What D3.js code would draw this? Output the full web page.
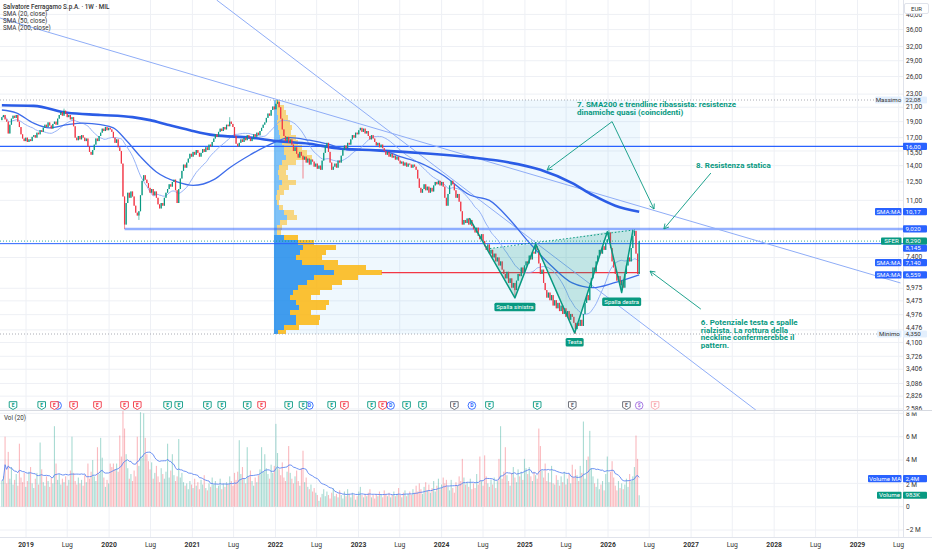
<!DOCTYPE html>
<html>
<head>
<meta charset="utf-8">
<script src="https://cdn.jsdelivr.net/npm/d3@7"></script>
<style>
  html, body { margin: 0; padding: 0; background: #fff; }
  svg { display: block; font-family: Roboto, "Liberation Sans", sans-serif; }
</style>
</head>
<body>
<div id="chart"></div>
<script>
'use strict';

// weekly closes (EUR), first week = 17 Sep 2018
var closes = [
  19.6, 19.9, 19.3, 19.0, 17.5, 18.6, 19.4, 19.8, 19.5, 19.9,
  19.0, 18.3, 17.4, 16.9, 16.6, 17.0, 16.5, 16.8, 16.6, 17.1,
  17.3, 17.0, 17.6, 17.4, 17.9, 17.7, 18.2, 18.6, 18.3, 18.9,
  18.5, 18.1, 18.7, 19.0, 18.6, 19.4, 19.9, 20.3, 19.8, 20.5,
  20.1, 19.6, 19.9, 19.3, 19.6, 18.4, 17.0, 16.7, 17.2, 16.8,
  17.3, 17.0, 16.6, 16.9, 16.0, 15.4, 15.1, 15.6, 16.2, 16.9,
  16.6, 17.2, 17.6, 18.1, 17.8, 18.3, 17.9, 18.2, 18.0, 17.7,
  17.0, 16.4, 16.8, 15.9, 15.5, 14.2, 11.3, 9.3, 10.8, 11.6,
  11.2, 11.7, 11.3, 10.6, 10.1, 9.9, 10.2, 11.4, 12.6, 13.1,
  12.7, 12.4, 12.0, 11.6, 11.9, 11.4, 11.7, 11.2, 10.7, 10.4,
  10.8, 10.6, 11.2, 11.6, 11.9, 12.3, 12.1, 12.5, 12.7, 11.8,
  10.8, 11.9, 12.8, 13.5, 14.1, 13.8, 14.3, 14.7, 15.2, 14.9,
  15.4, 15.1, 15.6, 15.3, 14.9, 15.3, 15.7, 15.4, 15.9, 15.6,
  16.2, 16.0, 16.5, 16.9, 17.4, 17.1, 17.7, 18.1, 17.8, 18.3,
  18.0, 18.6, 18.4, 19.0, 18.7, 18.3, 17.2, 16.3, 16.0, 16.4,
  16.8, 16.5, 17.0, 16.7, 17.3, 17.0, 16.6, 16.9, 17.4, 17.1,
  17.6, 17.3, 17.8, 18.2, 18.6, 18.9, 19.5, 20.1, 19.8, 20.6,
  21.1, 20.7, 21.5, 21.8, 21.0, 19.4, 18.0, 17.2, 16.6, 17.1,
  16.4, 16.8, 16.2, 15.5, 15.9, 15.2, 14.8, 15.4, 15.0, 14.6,
  14.9, 14.3, 14.7, 14.1, 14.6, 14.4, 13.9, 14.2, 13.7, 14.0,
  13.6, 14.5, 15.3, 16.0, 16.4, 15.4, 14.3, 13.6, 13.9, 14.2,
  13.8, 14.5, 14.3, 15.0, 15.6, 16.1, 15.8, 16.4, 16.2, 16.8,
  17.3, 17.0, 17.6, 17.4, 17.9, 18.2, 17.7, 18.1, 17.5, 17.8,
  17.2, 16.8, 17.3, 16.9, 16.5, 16.1, 16.4, 15.9, 16.2, 15.8,
  15.5, 15.1, 15.4, 14.9, 15.2, 14.8, 15.0, 14.6, 14.9, 14.5,
  14.2, 14.4, 14.0, 14.3, 13.9, 14.2, 14.1, 13.8, 14.1, 13.9,
  13.6, 12.8, 12.0, 11.6, 11.9, 12.3, 11.8, 12.1, 11.6, 12.0,
  11.7, 12.2, 12.5, 12.3, 12.6, 12.2, 12.5, 12.1, 11.2, 10.6,
  11.5, 12.2, 12.6, 12.3, 11.8, 11.2, 11.5, 10.9, 10.2, 9.3,
  9.6, 9.4, 9.7, 9.3, 9.6, 9.2, 9.0, 8.8, 9.1, 8.6,
  8.4, 8.7, 8.3, 8.0, 7.8, 8.1, 7.6, 7.8, 7.4, 7.6,
  7.2, 7.4, 7.0, 7.2, 6.8, 6.6, 6.4, 6.7, 6.2, 6.4,
  6.0, 6.2, 5.9, 6.3, 6.6, 6.5, 6.9, 6.7, 7.0, 7.2,
  7.1, 7.5, 7.3, 7.7, 7.6, 8.0, 7.8, 7.1, 6.6, 6.8,
  6.2, 5.9, 5.6, 5.8, 5.5, 5.7, 5.3, 5.5, 5.2, 5.4,
  5.1, 5.3, 5.0, 5.2, 4.9, 5.1, 4.8, 5.0, 4.9, 4.7,
  4.5, 4.7, 4.6, 4.8, 4.6, 5.0, 5.4, 5.7, 5.5, 6.0,
  6.4, 6.9, 6.7, 7.2, 7.5, 7.8, 7.6, 8.0, 7.8, 8.2,
  8.4, 8.8, 7.9, 7.2, 6.9, 6.6, 6.3, 6.5, 6.1, 6.3,
  6.0, 6.6, 7.0, 7.4, 7.2, 7.9, 8.6, 8.9, 7.6, 6.6,
  8.29
];
var firstOpen = 19.2;

// notable wicks (week index, high / low)
var wickWeeks = [39, 77, 86, 143, 173, 189, 322, 335, 360, 381, 389, 397];
var wickHigh  = [20.8, null, null, 19.6, 22.08, null, null, 8.15, null, 8.95, null, 9.0];
var wickLow   = [null, 9.02, 9.6, null, null, 12.8, 5.6, null, 4.35, null, 5.85, null];

// weekly volume, millions of shares
var volumes = [
  2.2, 2.6, 6.0, 2.0, 4.7, 2.4, 3.4, 1.9, 2.3, 2.8,
  1.8, 5.4, 2.5, 2.1, 2.9, 1.7, 2.2, 3.0, 3.4, 2.0,
  1.6, 2.4, 2.9, 1.9, 5.5, 3.2, 2.1, 1.8, 2.6, 2.2,
  1.7, 2.5, 2.0, 6.9, 3.7, 2.3, 2.8, 1.9, 2.4, 2.1,
  2.6, 1.8, 2.3, 3.1, 6.0, 2.9, 2.2, 1.9, 2.5, 2.0,
  2.3, 1.8, 2.7, 2.1, 3.7, 2.4, 3.0, 4.0, 2.6, 2.2,
  5.1, 2.8, 5.9, 4.2, 2.5, 1.7, 2.3, 2.0, 3.7, 3.4,
  3.7, 3.2, 3.7, 3.0, 6.1, 4.3, 8.3, 6.7, 4.5, 3.3,
  2.4, 2.8, 2.2, 3.1, 2.6, 6.0, 3.5, 8.1, 4.2, 8.0,
  5.9, 4.5, 3.9, 3.2, 3.8, 2.4, 2.9, 3.5, 2.6, 2.1,
  3.3, 2.8, 2.4, 3.0, 5.4, 2.5, 3.1, 4.5, 2.7, 2.2,
  2.6, 5.8, 2.5, 2.9, 2.1, 1.8, 2.0, 1.5, 2.2, 1.9,
  1.6, 2.4, 1.8, 2.1, 1.5, 2.3, 1.9, 2.7, 1.6, 1.4,
  2.0, 1.7, 2.5, 1.9, 2.2, 1.6, 1.8, 2.4, 1.5, 2.0,
  1.7, 2.1, 1.9, 2.6, 2.2, 1.8, 2.9, 2.3, 3.0, 5.7,
  2.8, 3.4, 2.4, 2.0, 5.1, 2.6, 3.1, 2.2, 1.8, 2.5,
  2.1, 2.7, 3.2, 5.1, 3.0, 4.5, 3.3, 2.8, 2.4, 3.6,
  2.9, 3.5, 7.1, 4.6, 3.2, 2.7, 3.8, 2.5, 2.2, 3.0,
  5.2, 2.9, 2.4, 2.0, 2.6, 3.1, 2.2, 1.8, 3.3, 4.8,
  2.1, 2.5, 1.7, 1.5, 1.9, 1.3, 1.6, 1.2, 1.0, 0.5,
  0.8, 1.1, 1.5, 0.9, 1.3, 1.0, 0.7, 1.2, 1.6, 0.9,
  1.1, 0.8, 1.4, 1.0, 0.7, 1.3, 0.9, 1.5, 1.1, 0.8,
  1.2, 1.0, 0.6, 0.9, 1.3, 1.7, 1.0, 0.8, 1.1, 0.9,
  1.2, 1.5, 0.8, 1.0, 0.7, 1.1, 0.9, 1.3, 1.0, 0.8,
  1.4, 1.1, 0.9, 1.2, 0.8, 1.0, 1.3, 0.9, 1.1, 1.6,
  1.0, 0.8, 1.2, 1.4, 0.9, 1.1, 1.3, 1.0, 1.5, 1.2,
  1.8, 1.3, 2.0, 1.5, 1.1, 1.7, 2.1, 1.4, 1.9, 1.2,
  1.6, 2.2, 1.3, 1.8, 2.4, 1.5, 1.9, 2.5, 2.0, 2.3,
  1.7, 1.4, 2.3, 1.6, 1.2, 2.1, 1.8, 2.6, 2.2, 4.1,
  2.5, 1.9, 2.1, 1.7, 2.4, 1.5, 2.0, 1.6, 2.8, 1.9,
  4.3, 2.2, 1.8, 4.4, 2.6, 2.0, 1.7, 2.3, 1.9, 2.5,
  1.6, 2.2, 4.1, 6.9, 2.4, 3.0, 5.1, 2.7, 2.2, 1.8,
  2.9, 3.4, 2.5, 2.1, 3.2, 2.6, 3.0, 2.3, 4.1, 3.3,
  2.8, 3.4, 2.6, 2.2, 3.0, 2.7, 2.4, 6.7, 5.2, 3.1,
  2.5, 3.7, 2.2, 2.9, 2.1, 3.5, 2.0, 1.9, 2.7, 2.3,
  1.8, 2.6, 2.1, 3.0, 1.9, 2.4, 2.8, 2.0, 3.6, 2.5,
  3.2, 2.7, 2.2, 3.5, 2.9, 7.3, 2.4, 4.0, 4.3, 6.5,
  3.3, 2.6, 2.0, 1.7, 2.4, 1.5, 1.9, 2.2, 1.4, 2.8,
  4.3, 2.1, 3.0, 3.9, 2.5, 1.8, 1.4, 2.2, 1.6, 2.0,
  1.5, 1.9, 2.4, 1.7, 2.8, 2.2, 2.6, 3.4, 6.1, 4.1,
  0.98
];

// moving averages (week index -> value)
var sma50Weeks = [0, 9, 20, 30, 41, 51, 62, 70, 78, 87, 97, 110, 120, 133, 143, 156, 168, 181, 193, 206, 218, 237, 250, 262, 277, 294, 306, 319, 331, 346, 358, 371, 384, 400];
var sma50Vals  = [20.6, 20.2, 18.8, 18.2, 18.6, 18.8, 18.6, 18.2, 16.7, 14.9, 13.4, 12.5, 12.2, 12.7, 13.8, 15.1, 16.2, 17.0, 16.7, 16.2, 15.6, 15.6, 14.9, 14.3, 13.1, 11.4, 11.0, 9.6, 8.2, 6.9, 6.2, 6.0, 6.2, 6.56];
var sma200Weeks = [0, 20, 41, 62, 82, 93, 104, 118, 133, 156, 173, 193, 210, 231, 252, 269, 296, 311, 338, 358, 371, 385, 400];
var sma200Vals  = [21.3, 21.2, 20.2, 19.9, 19.6, 19.2, 18.6, 17.9, 17.3, 17.0, 16.6, 16.3, 15.8, 15.6, 15.4, 15.2, 14.8, 14.5, 13.6, 12.4, 11.4, 10.6, 10.17];

// fixed range volume profile: row edges (EUR), up / down volume per row
var profileEdges = [22.08, 21.33, 20.60, 19.89, 19.22, 18.56, 17.93, 17.32, 16.73, 16.16, 15.61, 15.07, 14.56, 14.06, 13.58, 13.12, 12.67, 12.24, 11.82, 11.42, 11.03, 10.65, 10.29, 9.94, 9.60, 9.27, 8.95, 8.65, 8.35, 8.07, 7.79, 7.53, 7.27, 7.02, 6.78, 6.55, 6.33, 6.11, 5.90, 5.70, 5.51, 5.32, 5.14, 4.96, 4.79, 4.63, 4.47, 4.35];
var profileUp   = [2, 3, 3, 4, 3, 4, 5, 6, 8, 10, 10, 12, 8, 5, 4, 5, 8, 5, 3, 2, 3, 5, 10, 13, 6, 3, 3, 10, 24, 29, 26, 22, 28, 50, 60, 40, 33, 24, 19, 16, 22, 25, 16, 22, 22, 10, 4];
var profileDown = [4, 7, 9, 10, 13, 14, 12, 16, 16, 18, 23, 26, 14, 9, 8, 9, 14, 10, 7, 4, 2, 4, 10, 10, 7, 5, 4, 14, 16, 33, 26, 26, 36, 42, 48, 44, 35, 34, 27, 21, 33, 27, 21, 24, 23, 15, 8];
var pocPrice = 6.66;
var valueAreaTop = 8.65;
var rangeHigh = 22.08, rangeLow = 4.35;

// levels
var levels = [16.0, 9.02, 8.145];
var lastPrice = 8.29;

// axis ticks
var priceTicks = [40, 36, 32, 29, 26, 23, 21, 19, 17, 15.5, 14, 12.5, 11, 7.4, 5.975, 5.475, 4.976, 4.476, 4.1, 3.726, 3.406, 3.086, 2.826, 2.586];
var priceTickLabels = ['40,00', '36,00', '32,00', '29,00', '26,00', '23,00', '21,00', '19,00', '17,00', '15,50', '14,00', '12,50', '11,00', '7,400', '5,975', '5,475', '4,976', '4,476', '4,100', '3,726', '3,406', '3,086', '2,826', '2,586'];
var volTicks = [8, 6, 4, 2, 0, -2];
var volTickLabels = ['8 M', '6 M', '4 M', '2 M', '0', '\u22122 M'];
var years = [2019, 2020, 2021, 2022, 2023, 2024, 2025, 2026, 2027, 2028, 2029];
var midLabel = 'Lug';

// events (week index, kind)
var eventWeeks = [35, 193, 244, 295, 7, 25, 33, 45, 60, 77, 85, 104, 111, 129, 138, 154, 163, 180, 189, 207, 215, 232, 239, 254, 264, 284, 306, 336, 358, 392, 400, 410];
var eventKinds = ['D', 'D', 'D', 'D', 'Eg', 'Eg', 'Er', 'Er', 'Er', 'Er', 'Er', 'Eg', 'Eg', 'Eg', 'Eg', 'Eg', 'Er', 'Eg', 'Eg', 'Eg', 'Er', 'Eg', 'Er', 'Eg', 'Eg', 'Ex', 'Eg', 'Eg', 'Ex', 'Ex', 'S', 'Ef'];

// --- layout --------------------------------------------------------------
var width = 932, height = 550;
var paneRight = 903;
var priceBottom = 410, volTop = 411, volBottom = 537;
var green = '#089981', red = '#f23645', blue = '#2962ff';
var t0 = new Date(2018, 8, 17).getTime();
var WEEK = 7 * 864e5;

var x = d3.scaleTime().domain([new Date(2019, 0, 1), new Date(2026, 0, 1)]).range([26, 608]);
var y = d3.scaleLog().domain([22.08, 4.35]).range([100, 334]);
var yv = d3.scaleLinear().domain([0, 6]).range([506.7, 436.7]);
function xw(i) { return x(new Date(t0 + i * WEEK)); }

var svg = d3.select('#chart').append('svg').attr('width', width).attr('height', height);
svg.append('rect').attr('width', width).attr('height', height).attr('fill', '#fff');

var defs = svg.append('defs');
defs.append('clipPath').attr('id', 'clipPrice').append('rect').attr('x', 0).attr('y', 0).attr('width', paneRight).attr('height', priceBottom);
defs.append('clipPath').attr('id', 'clipVol').append('rect').attr('x', 0).attr('y', volTop).attr('width', paneRight).attr('height', volBottom - volTop);
defs.append('clipPath').attr('id', 'clipPriceAxis').append('rect').attr('x', paneRight).attr('y', 0).attr('width', 30).attr('height', priceBottom);
defs.append('clipPath').attr('id', 'clipVolAxis').append('rect').attr('x', paneRight).attr('y', 412.5).attr('width', 30).attr('height', volBottom - 412.5);

// grid
var grid = svg.append('g').attr('stroke', '#eef0f5').attr('stroke-width', 1);
years.forEach(function (yr) {
  [new Date(yr, 0, 1), new Date(yr, 6, 1)].forEach(function (d) {
    grid.append('line').attr('x1', x(d)).attr('x2', x(d)).attr('y1', 0).attr('y2', volBottom);
  });
});
priceTicks.forEach(function (v) {
  grid.append('line').attr('x1', 0).attr('x2', paneRight).attr('y1', y(v)).attr('y2', y(v));
});
volTicks.forEach(function (v) {
  grid.append('line').attr('x1', 0).attr('x2', paneRight).attr('y1', yv(v)).attr('y2', yv(v));
});

var pp = svg.append('g').attr('clip-path', 'url(#clipPrice)');

// volume profile range box
var profStart = 170.5, profEnd = 400.5;
pp.append('rect')
  .attr('x', xw(profStart)).attr('width', xw(profEnd) - xw(profStart))
  .attr('y', y(rangeHigh)).attr('height', y(rangeLow) - y(rangeHigh))
  .attr('fill', 'rgba(33,150,243,0.07)');

var px = d3.scaleLinear().domain([0, 110]).range([xw(profStart), xw(profStart) + 110]);
var rows = profileUp.map(function (u, k) {
  return { top: profileEdges[k], bot: profileEdges[k + 1], up: u, down: profileDown[k] };
});
var prof = pp.append('g').attr('shape-rendering', 'crispEdges');
prof.selectAll('rect.up').data(rows).enter().append('rect')
  .attr('x', px(0)).attr('width', function (d) { return px(d.up) - px(0); })
  .attr('y', function (d) { return y(d.top); })
  .attr('height', function (d) { return y(d.bot) - y(d.top); })
  .attr('fill', function (d) { return d.top <= valueAreaTop ? 'rgba(33,140,235,0.85)' : 'rgba(33,150,243,0.55)'; });
prof.selectAll('rect.down').data(rows).enter().append('rect')
  .attr('x', function (d) { return px(d.up); })
  .attr('width', function (d) { return px(d.up + d.down) - px(d.up); })
  .attr('y', function (d) { return y(d.top); })
  .attr('height', function (d) { return y(d.bot) - y(d.top); })
  .attr('fill', function (d) { return d.top <= valueAreaTop ? 'rgba(251,186,30,0.9)' : 'rgba(251,192,45,0.6)'; });

var pocRow = rows.filter(function (d) { return d.top >= pocPrice && d.bot < pocPrice; })[0];
pp.append('line')
  .attr('x1', px(pocRow.up + pocRow.down)).attr('x2', xw(profEnd))
  .attr('y1', y(pocPrice)).attr('y2', y(pocPrice))
  .attr('stroke', red).attr('stroke-width', 1.2);

// dotted range lines and last price line
[rangeHigh, rangeLow].forEach(function (v) {
  pp.append('line').attr('x1', 0).attr('x2', paneRight).attr('y1', y(v)).attr('y2', y(v))
    .attr('stroke', '#9598a1').attr('stroke-width', 0.8).attr('stroke-dasharray', '1,2');
});
pp.append('line').attr('x1', 0).attr('x2', paneRight).attr('y1', y(lastPrice)).attr('y2', y(lastPrice))
  .attr('stroke', green).attr('stroke-width', 0.8).attr('stroke-dasharray', '1,2');

// horizontal levels
pp.append('line').attr('x1', 0).attr('x2', paneRight).attr('y1', y(levels[0])).attr('y2', y(levels[0]))
  .attr('stroke', blue).attr('stroke-width', 1.3);
pp.append('line').attr('x1', xw(77)).attr('x2', paneRight).attr('y1', y(levels[1])).attr('y2', y(levels[1]))
  .attr('stroke', 'rgba(41,98,255,0.5)').attr('stroke-width', 2.6);
pp.append('line').attr('x1', 0).attr('x2', paneRight).attr('y1', y(levels[2])).attr('y2', y(levels[2]))
  .attr('stroke', blue).attr('stroke-width', 1);

// trendlines (two anchors each, drawn across the pane)
var trendA = [[134.8, 44.2], [473.2, 2.566]];
var trendB = [[-1.1, 39.0], [564.0, 6.2]];
[trendA, trendB].forEach(function (t) {
  pp.append('line')
    .attr('x1', xw(t[0][0])).attr('y1', y(t[0][1]))
    .attr('x2', xw(t[1][0])).attr('y2', y(t[1][1]))
    .attr('stroke', '#8fadf7').attr('stroke-width', 1);
});

// SMA 20 from closes
var sma20 = closes.map(function (c, i) {
  var s = closes.slice(Math.max(0, i - 19), i + 1);
  return [i, d3.mean(s)];
});
var lineGen = d3.line().x(function (d) { return xw(d[0]); }).y(function (d) { return y(d[1]); }).curve(d3.curveMonotoneX);
pp.append('path').datum(sma20).attr('d', lineGen).attr('fill', 'none').attr('stroke', '#8aa9f5').attr('stroke-width', 0.9);
pp.append('path').datum(sma50Weeks.map(function (w, k) { return [w, sma50Vals[k]]; }))
  .attr('d', lineGen).attr('fill', 'none').attr('stroke', '#3d6cea').attr('stroke-width', 1.3);
pp.append('path').datum(sma200Weeks.map(function (w, k) { return [w, sma200Vals[k]]; }))
  .attr('d', lineGen).attr('fill', 'none').attr('stroke', '#2b5ce6').attr('stroke-width', 2.6);

// candles
var candles = closes.map(function (c, i) {
  var o = i === 0 ? firstOpen : closes[i - 1];
  var h = Math.max(o, c), l = Math.min(o, c);
  var k = wickWeeks.indexOf(i);
  if (k >= 0) {
    if (wickHigh[k] !== null) h = wickHigh[k];
    if (wickLow[k] !== null) l = wickLow[k];
  }
  return { i: i, o: o, c: c, h: h, l: l, up: c >= o };
});
var cg = pp.append('g');
cg.selectAll('line').data(candles).enter().append('line')
  .attr('x1', function (d) { return xw(d.i); }).attr('x2', function (d) { return xw(d.i); })
  .attr('y1', function (d) { return y(d.h); }).attr('y2', function (d) { return y(d.l); })
  .attr('stroke', function (d) { return d.up ? green : red; }).attr('stroke-width', 0.6);
cg.selectAll('rect').data(candles).enter().append('rect')
  .attr('x', function (d) { return xw(d.i) - 0.6; }).attr('width', 1.2)
  .attr('y', function (d) { return y(Math.max(d.o, d.c)); })
  .attr('height', function (d) { return Math.max(0.7, y(Math.min(d.o, d.c)) - y(Math.max(d.o, d.c))); })
  .attr('fill', function (d) { return d.up ? green : red; });

// inverse head and shoulders
var hs = { nl0: [304.1, 7.85], p0: [293.4, 9.73], p1: [322, 5.59], p2: [335, 8.13], p3: [359.5, 4.38], p4: [380, 8.85], p5: [389, 5.8], p6: [396.1, 8.95] };
function pt(p) { return [xw(p[0]), y(p[1])]; }
var hsg = pp.append('g');
[[hs.nl0, hs.p1, hs.p2], [hs.p2, hs.p3, hs.p4], [hs.p4, hs.p5, hs.p6]].forEach(function (tri) {
  hsg.append('polygon').attr('points', tri.map(function (p) { return pt(p).join(','); }).join(' '))
    .attr('fill', 'rgba(8,153,129,0.2)');
});
hsg.append('line').attr('x1', pt(hs.nl0)[0]).attr('y1', pt(hs.nl0)[1]).attr('x2', pt(hs.p6)[0]).attr('y2', pt(hs.p6)[1])
  .attr('stroke', green).attr('stroke-width', 1).attr('stroke-dasharray', '1.5,2');
hsg.append('polyline')
  .attr('points', [hs.p0, hs.p1, hs.p2, hs.p3, hs.p4, hs.p5, hs.p6].map(function (p) { return pt(p).join(','); }).join(' '))
  .attr('fill', 'none').attr('stroke', green).attr('stroke-width', 1.5).attr('stroke-linejoin', 'round');
[[hs.p1, 'Spalla sinistra', 41], [hs.p3, 'Testa', 18], [hs.p5, 'Spalla destra', 39]].forEach(function (l) {
  var c = pt(l[0]);
  hsg.append('rect').attr('x', c[0] - l[2] / 2).attr('y', c[1] + 5).attr('width', l[2]).attr('height', 8.5)
    .attr('rx', 1.5).attr('fill', green);
  hsg.append('text').attr('x', c[0]).attr('y', c[1] + 11.4).attr('text-anchor', 'middle')
    .attr('font-size', 6).attr('fill', '#fff').text(l[1]);
});

// annotations
var ag = pp.append('g').attr('stroke', green).attr('stroke-width', 0.9).attr('fill', 'none');
function arrow(a, b) {
  var p1 = pt(a), p2 = pt(b);
  ag.append('line').attr('x1', p1[0]).attr('y1', p1[1]).attr('x2', p2[0]).attr('y2', p2[1]);
  var ang = Math.atan2(p2[1] - p1[1], p2[0] - p1[0]);
  [-0.5, 0.5].forEach(function (s) {
    ag.append('line').attr('x1', p2[0]).attr('y1', p2[1])
      .attr('x2', p2[0] - 5.5 * Math.cos(ang + s)).attr('y2', p2[1] - 5.5 * Math.sin(ang + s));
  });
}
arrow([383.0, 19.0], [342.2, 13.58]);
arrow([383.0, 19.0], [409.3, 10.36]);
arrow([445.0, 13.3], [415.5, 9.02]);
arrow([438.7, 5.17], [406.8, 6.73]);

var notes = [
  { at: [361.0, 21.85], lines: ['7. SMA200 e trendline ribassista: resistenze', 'dinamiche quasi (coincidenti)'] },
  { at: [435.6, 14.36], lines: ['8. Resistenza statica'] },
  { at: [438.7, 4.81], lines: ['6. Potenziale testa e spalle', 'rialzista. La rottura della', 'neckline confermerebbe il', 'pattern.'] }
];
notes.forEach(function (n) {
  var p = pt(n.at);
  var t = pp.append('text').attr('x', p[0]).attr('y', p[1] + 5.8)
    .attr('font-size', 8).attr('font-weight', 700).attr('fill', green);
  n.lines.forEach(function (s, k) {
    t.append('tspan').attr('x', p[0]).attr('dy', k === 0 ? 0 : 7.4).text(s);
  });
});

// events row
var eg = svg.append('g');
var evY = 405.5;
eventWeeks.forEach(function (w, k) {
  var kind = eventKinds[k], cx = xw(w);
  if (kind === 'D' || kind === 'S') {
    var col = kind === 'D' ? blue : '#9c6ade';
    eg.append('circle').attr('cx', cx).attr('cy', evY).attr('r', 3.8).attr('fill', '#fff').attr('stroke', col).attr('stroke-width', 0.9);
    eg.append('text').attr('x', cx).attr('y', evY + 1.9).attr('text-anchor', 'middle').attr('font-size', 5).attr('font-weight', 700)
      .attr('fill', col).text(kind === 'D' ? 'D' : '$');
  } else {
    var c = kind === 'Eg' ? green : kind === 'Er' ? red : kind === 'Ex' ? '#5d606b' : '#f7a6ad';
    eg.append('path')
      .attr('d', 'M' + (cx - 3.8) + ',' + (evY - 3.8) + 'h7.6v5.6l-3.8,2.2l-3.8,-2.2z')
      .attr('fill', '#fff').attr('stroke', c).attr('stroke-width', 0.9).attr('stroke-linejoin', 'round');
    eg.append('text').attr('x', cx).attr('y', evY + 1.6).attr('text-anchor', 'middle').attr('font-size', 4.8).attr('font-weight', 700)
      .attr('fill', c).text('E');
  }
});

// volume pane
var vp = svg.append('g').attr('clip-path', 'url(#clipVol)');
vp.selectAll('rect').data(candles).enter().append('rect')
  .attr('x', function (d) { return xw(d.i) - 0.55; }).attr('width', 1.1)
  .attr('y', function (d) { return yv(volumes[d.i]); })
  .attr('height', function (d) { return yv(0) - yv(volumes[d.i]); })
  .attr('fill', function (d) { return d.up ? 'rgba(8,153,129,0.35)' : 'rgba(242,54,69,0.35)'; });
var volMA = volumes.map(function (v, i) {
  return [i, d3.mean(volumes.slice(Math.max(0, i - 19), i + 1))];
});
vp.append('path').datum(volMA)
  .attr('d', d3.line().x(function (d) { return xw(d[0]); }).y(function (d) { return yv(d[1]); }))
  .attr('fill', 'none').attr('stroke', '#5b84f1').attr('stroke-width', 0.9);

// pane separators
svg.append('line').attr('x1', 0).attr('x2', width).attr('y1', 410.5).attr('y2', 410.5).attr('stroke', '#d6d9e0').attr('stroke-width', 1);
svg.append('line').attr('x1', 0).attr('x2', width).attr('y1', 537.5).attr('y2', 537.5).attr('stroke', '#e0e3eb').attr('stroke-width', 1);
svg.append('line').attr('x1', paneRight + 0.5).attr('x2', paneRight + 0.5).attr('y1', 0).attr('y2', 537).attr('stroke', '#e0e3eb').attr('stroke-width', 1);

// marker rows on the price scale (used to keep tick labels clear of them)
var priceMarks = [
  { yy: y(22.08), txt: '22,08', bg: '#e3effd', fg: '#333', name: 'Massimo', w: 27 },
  { yy: y(16.0), txt: '16,00', bg: blue, fg: '#fff' },
  { yy: y(10.17), txt: '10,17', bg: blue, fg: '#fff', name: 'SMA:MA', w: 27 },
  { yy: y(9.02), txt: '9,020', bg: blue, fg: '#fff' },
  { yy: y(lastPrice), txt: '8,290', bg: green, fg: '#fff', name: 'SFER', w: 21 },
  { yy: y(8.145) + 4.6, txt: '8,145', bg: blue, fg: '#fff' },
  { yy: y(7.14), txt: '7,140', bg: blue, fg: '#fff', name: 'SMA:MA', w: 27 },
  { yy: y(6.559), txt: '6,559', bg: blue, fg: '#fff', name: 'SMA:MA', w: 27 },
  { yy: y(4.35), txt: '4,350', bg: '#e3effd', fg: '#333', name: 'Minimo', w: 25 }
];
var volMarks = [
  { yy: yv(2.4), txt: '2,4M', bg: blue, fg: '#fff', name: 'Volume MA', w: 34 },
  { yy: yv(0.983), txt: '983K', bg: green, fg: '#fff', name: 'Volume', w: 25 }
];

// nudge a tick label off any marker box it would touch
function clearOf(ty, marks) {
  marks.forEach(function (m) {
    var top = m.yy - 3.6, bot = m.yy + 3.6;
    if (ty + 2.3 > top && ty - 2.6 < bot) {
      ty = ty < m.yy ? top - 2.6 : bot + 2.9;
    }
  });
  return ty;
}

// right axis tick labels
var ax = svg.append('g').attr('font-size', 6.6).attr('fill', '#333').attr('clip-path', 'url(#clipPriceAxis)');
priceTicks.forEach(function (v, k) {
  ax.append('text').attr('x', 906).attr('y', clearOf(y(v), priceMarks) + 2.2).text(priceTickLabels[k]);
});
var vax = svg.append('g').attr('font-size', 6.6).attr('fill', '#333').attr('clip-path', 'url(#clipVolAxis)');
volTicks.forEach(function (v, k) {
  vax.append('text').attr('x', 906).attr('y', clearOf(yv(v), volMarks) + 2.2).text(volTickLabels[k]);
});

// bottom axis
var bx = svg.append('g').attr('font-size', 6.8).attr('fill', '#333').attr('text-anchor', 'middle');
years.forEach(function (yr) {
  bx.append('text').attr('x', x(new Date(yr, 0, 1))).attr('y', 546.5).attr('font-weight', 700).text(yr);
  bx.append('text').attr('x', x(new Date(yr, 6, 1))).attr('y', 546.5).text(midLabel);
});

// axis marker boxes
priceMarks.concat(volMarks).forEach(function (m) {
  var g = svg.append('g').attr('font-size', 6.2);
  g.append('rect').attr('x', 903).attr('y', m.yy - 3.6).attr('width', 24).attr('height', 7.2).attr('rx', 1).attr('fill', m.bg);
  g.append('text').attr('x', 905.5).attr('y', m.yy + 2.2).attr('fill', m.fg).text(m.txt);
  if (m.name) {
    g.append('rect').attr('x', 902 - m.w).attr('y', m.yy - 3.6).attr('width', m.w - 0.5).attr('height', 7.2).attr('rx', 1).attr('fill', m.bg);
    g.append('text').attr('x', 902 - m.w / 2).attr('y', m.yy + 2.2).attr('text-anchor', 'middle').attr('fill', m.fg).text(m.name);
  }
});

// currency box
svg.append('rect').attr('x', 904.5).attr('y', 3.5).attr('width', 24).attr('height', 10).attr('rx', 1.5)
  .attr('fill', '#fff').attr('stroke', '#e0e3eb');
svg.append('text').attr('x', 916.5).attr('y', 10.6).attr('text-anchor', 'middle').attr('font-size', 6).attr('fill', '#333').text('EUR');

// legend
var lg = svg.append('g').attr('font-size', 6.3).attr('fill', '#333');
lg.append('text').attr('x', 3).attr('y', 9).attr('font-weight', 500).text('Salvatore Ferragamo S.p.A. \u00b7 1W \u00b7 MIL');
['SMA (20, close)', 'SMA (50, close)', 'SMA (200, close)'].forEach(function (s, k) {
  lg.append('text').attr('x', 3).attr('y', 16.2 + k * 7).text(s);
});
svg.append('text').attr('x', 4).attr('y', 420).attr('font-size', 6.3).attr('fill', '#333').text('Vol (20)');
</script>
</body>
</html>
